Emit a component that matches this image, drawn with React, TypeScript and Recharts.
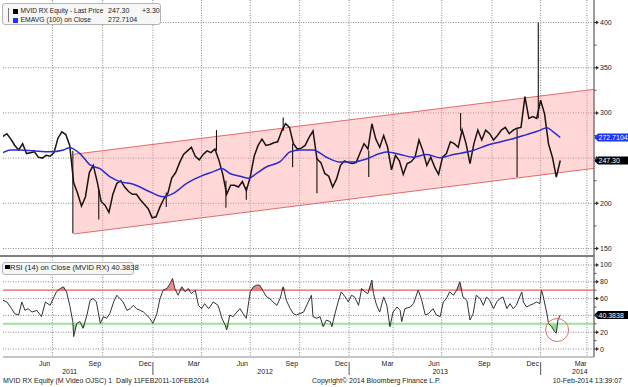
import React from 'react';
import { ComposedChart, Line, Area, XAxis, YAxis, CartesianGrid, ReferenceLine, ReferenceDot } from 'recharts';

// ---------- data (x = trading-day index from the start of the window) ----------
const WEEK = 5;
const weeklyClose = [
  274, 277, 271, 264, 259, 266, 255, 256, 257, 251,
  250, 253, 252, 256, 272, 279, 276, 264, 223, 211,
  197, 207, 234, 242, 224, 202, 198, 190, 210, 222,
  225, 218, 213, 210, 210, 204, 199, 194, 184, 185,
  196, 205, 211, 228, 234, 245, 254, 258, 262, 252,
  248, 254, 258, 256, 260, 248, 232, 210, 220, 220,
  218, 224, 214, 229, 252, 264, 271, 264, 265, 267,
  268, 280, 288, 284, 266, 260, 261, 264, 273, 280,
  249, 245, 233, 230, 218, 227, 242, 247, 245, 244,
  245, 256, 266, 260, 288, 271, 262, 275, 262, 237,
  253, 247, 232, 244, 246, 251, 270, 258, 242, 251,
  240, 232, 251, 255, 268, 266, 262, 281, 266, 244,
  266, 281, 270, 281, 277, 270, 275, 281, 284, 277,
  281, 283, 284, 318, 294, 296, 294, 314, 299, 266,
  251, 229, 247.3,
];
const spikeDays = [89, 122, 208, 272, 284, 310, 357, 369, 400, 466, 583, 655, 682];
const spikeFrom = [258, 215, 212, 258, 225, 218, 280, 266, 250, 258, 280, 282, 294];
const spikeTo = [167, 182, 196, 281, 195, 204, 295, 240, 211, 229, 300, 229, 400];

const emaDays = [
  0, 9, 22, 39, 60, 77, 85, 98, 111, 124,
  136, 149, 166, 187, 204, 217, 234, 251, 268, 279,
  289, 302, 313, 323, 336, 353, 366, 378, 395, 412,
  429, 446, 463, 480, 489, 506, 523, 540, 557, 574,
  591, 599, 616, 633, 650, 667, 684, 693, 701, 710,
];
const emaValues = [
  256, 259, 259, 258, 257, 259, 261.5, 255, 242.4, 238,
  229.5, 224, 221, 212.8, 207.3, 211, 222, 229.5, 235, 238.6,
  233, 230, 227.6, 233, 240.4, 246, 257, 259, 259, 251,
  245.6, 245.6, 249, 255, 256.7, 254, 251, 254, 250.4, 254,
  256.7, 258.5, 264, 267.8, 271.5, 276, 280.7, 283.7, 279, 272.7104,
];

const rsiDays = [
  0, 5, 11, 15, 20, 24, 28, 32, 37, 43,
  49, 54, 60, 64, 68, 73, 77, 81, 85, 89,
  90, 94, 98, 102, 107, 111, 115, 119, 124, 128,
  132, 136, 141, 145, 149, 153, 158, 162, 166, 170,
  175, 179, 183, 187, 191, 196, 200, 204, 209, 213,
  216, 219, 223, 228, 232, 236, 240, 245, 249, 253,
  257, 262, 268, 274, 279, 283, 285, 289, 293, 298,
  302, 306, 310, 315, 319, 323, 327, 332, 336, 340,
  344, 349, 353, 357, 361, 366, 370, 374, 383, 389,
  393, 395, 400, 404, 408, 412, 417, 419, 423, 427,
  431, 436, 440, 444, 448, 453, 457, 461, 465, 470,
  472, 476, 480, 485, 489, 493, 497, 502, 506, 508,
  512, 519, 523, 529, 533, 538, 542, 548, 552, 557,
  561, 565, 569, 574, 578, 582, 586, 591, 595, 599,
  603, 608, 612, 616, 620, 625, 629, 633, 637, 642,
  646, 650, 654, 661, 663, 667, 671, 676, 680, 684,
  686, 688, 693, 695, 699, 703, 705, 707, 710,
];
const rsiValues = [
  58, 56, 48, 42, 40.5, 56, 46, 48, 44, 46,
  38.5, 56, 52, 60, 68, 72, 74, 68, 52, 32.5,
  14.7, 30.5, 32.5, 24.6, 40.5, 58, 60, 56, 30.5, 38.5,
  36.5, 42, 56, 64, 60, 56, 46, 48, 52, 48,
  46, 44, 40.5, 36.5, 30.5, 42, 60, 70, 72, 78,
  84, 72, 64, 74, 68, 72, 66, 70, 52, 48,
  54, 48, 56, 52, 36.5, 28.6, 22.6, 40.5, 38.5, 44,
  48, 42, 36.5, 68, 74, 76, 76, 68, 62, 60,
  56, 52, 60, 74, 58, 48, 42, 40.5, 44, 56,
  64, 38.5, 36.5, 38.5, 26.6, 34.5, 32.5, 26.6, 42, 56,
  68, 62, 56, 64, 62, 52, 72, 68, 66, 82,
  66, 52, 44, 62, 52, 26.6, 44, 50, 46, 32.5,
  48, 50, 54, 70, 60, 40.5, 42, 48, 40.5, 38.5,
  56, 60, 68, 64, 70, 80, 62, 58, 34.5, 42,
  64, 60, 52, 62, 58, 48, 56, 60, 62, 48,
  54, 48, 52, 68, 56, 50, 52, 54, 56, 54,
  70, 64, 42, 30.5, 26.6, 20.6, 18.7, 34.5, 40.3838,
];

const channelDays = [90, 753];
const channelLow = [166, 238.7];
const channelHigh = [254.2, 326.1];

const gridDays = [63, 127, 191, 253, 315, 378, 441, 497, 559, 623, 685, 744];
const monthLabelDays = [53, 117, 181, 243, 305, 368, 431, 490, 549, 613, 675, 736];
const monthLabels = ['Jun', 'Sep', 'Dec', 'Mar', 'Jun', 'Sep', 'Dec', 'Mar', 'Jun', 'Sep', 'Dec', 'Mar'];
const yearLabelDays = [85, 334, 557, 735];
const yearLabels = ['2011', '2012', '2013', '2014'];
const yearStartDays = [191, 441, 685];

const priceTicks = [150, 175, 200, 225, 250, 275, 300, 325, 350, 375, 400];
const priceMajor = [150, 200, 250, 300, 350, 400];
const rsiTicks = [0, 10, 20, 30, 40, 50, 60, 70, 80, 90, 100];
const rsiMajor = [0, 20, 40, 60, 80, 100];

const priceChange = '+3.30';
const circleDay = 706;
const circleRsi = 22.6;

// ---------- derived tables ----------
const priceData = weeklyClose.map((v, i) => ({ day: i * WEEK, price: v }));
const emaData = emaDays.map((d, i) => ({ day: d, ema: emaValues[i] }));
const rsiData = rsiDays.map((d, i) => ({ day: d, rsi: rsiValues[i] }));
const channelData = channelDays.map((d, i) => ({ day: d, band: [channelLow[i], channelHigh[i]] }));
const lastPrice = weeklyClose[weeklyClose.length - 1];
const lastEma = emaValues[emaValues.length - 1];
const lastRsi = rsiValues[rsiValues.length - 1];
const yearTicks = [...yearLabelDays, ...yearStartDays].sort((a, b) => a - b);

const FONT = '"Liberation Sans", Arial, sans-serif';
const X_DOMAIN: [number, number] = [0, 753];

// axis tick: arrow mark + label; a label hidden under a last-value tag is not drawn
function AxisTick(props: any) {
  const { x, y, payload, major, tags, near } = props;
  const v = payload.value;
  const isMajor = major.includes(v);
  const covered = tags.some((t: number) => Math.abs(t - v) < near);
  return (
    <g>
      {isMajor ? (
        <polygon points={`${x},${y - 0.5} ${x + 2},${y - 0.5} ${x + 2},${y - 2} ${x + 5},${y} ${x + 2},${y + 2} ${x + 2},${y + 0.5} ${x},${y + 0.5}`} fill="#333" />
      ) : (
        <line x1={x} x2={x + 2.5} y1={y} y2={y} stroke="#555" strokeWidth={1} />
      )}
      {isMajor && !covered && (
        <text x={x + 6} y={y} dy={2.5} fontSize={7} fill="#222" fontFamily={FONT}>{v}</text>
      )}
    </g>
  );
}

function MonthTick(props: any) {
  const { x, y, payload } = props;
  const idx = monthLabelDays.indexOf(payload.value);
  return (
    <text x={x} y={y + 9} textAnchor="middle" fontSize={7} fill="#222" fontFamily={FONT}>{monthLabels[idx]}</text>
  );
}

function YearTick(props: any) {
  const { x, y, payload } = props;
  const v = payload.value;
  if (yearStartDays.includes(v)) {
    return <line x1={x} x2={x} y1={y - 3} y2={y + 10} stroke="#555" strokeWidth={1} />;
  }
  const idx = yearLabelDays.indexOf(v);
  return (
    <text x={x} y={y + 9} textAnchor="middle" fontSize={7} fill="#222" fontFamily={FONT}>{yearLabels[idx]}</text>
  );
}

function ValueTag(props: any) {
  const { viewBox, text, bg } = props;
  if (!viewBox) return null;
  const x = viewBox.x + viewBox.width;
  const y = viewBox.y;
  return (
    <g>
      <polygon points={`${x},${y} ${x + 4},${y - 4} ${x + 34},${y - 4} ${x + 34},${y + 4} ${x + 4},${y + 4}`} fill={bg} />
      <text x={x + 4.5} y={y + 2.6} fontSize={7} fill="#fff" fontFamily={FONT}>{text}</text>
    </g>
  );
}

const txt: React.CSSProperties = { position: 'absolute', fontFamily: FONT, fontSize: 7, lineHeight: '8px', color: '#222', whiteSpace: 'pre' };

export default function App() {
  return (
    <div style={{ position: 'absolute', left: 0, top: 0, width: 628, height: 387, background: '#fff', overflow: 'hidden' }}>
      <div style={{ position: 'absolute', left: 0, top: 0 }}>
        <ComposedChart width={628} height={255} margin={{ top: 0, right: 0, bottom: 0, left: 3 }}>
          <CartesianGrid stroke="#8a8a8a" strokeDasharray="1 1.5" horizontalValues={priceMajor} verticalValues={gridDays} />
          <XAxis dataKey="day" type="number" domain={X_DOMAIN} allowDataOverflow hide />
          <YAxis orientation="right" width={34} type="number" domain={[142.8, 424.9]} allowDataOverflow
            ticks={priceTicks} interval={0} tick={<AxisTick major={priceMajor} tags={[lastPrice, lastEma]} near={6} />}
            tickLine={false} tickSize={0} tickMargin={0} axisLine={{ stroke: '#7a7a7a', strokeWidth: 1.5 }} />
          <Area data={channelData} dataKey="band" type="linear" stroke="#e06a6a" strokeWidth={1} fill="#ff9c9c" fillOpacity={0.4}
            dot={false} activeDot={false} isAnimationActive={false} />
          <Line data={priceData} dataKey="price" type="linear" stroke="#1a1212" strokeWidth={1.5} dot={false} activeDot={false} isAnimationActive={false} />
          {spikeDays.map((d, k) => (
            <Line key={`s${k}`} data={[{ day: d, v: spikeFrom[k] }, { day: d, v: spikeTo[k] }]} dataKey="v" type="linear"
              stroke="#1a1212" strokeWidth={1.1} dot={false} activeDot={false} isAnimationActive={false} />
          ))}
          <Line data={emaData} dataKey="ema" type="monotone" stroke="#2b2bd0" strokeWidth={1.5} dot={false} activeDot={false} isAnimationActive={false} />
          <ReferenceLine y={lastEma} stroke="none" label={<ValueTag text={lastEma.toFixed(4)} bg="#1a33ff" />} />
          <ReferenceLine y={lastPrice} stroke="none" label={<ValueTag text={lastPrice.toFixed(2)} bg="#000" />} />
        </ComposedChart>
      </div>

      <div style={{ position: 'absolute', left: 0, top: 255, width: 595, height: 2, background: '#7f7f7f' }} />

      <div style={{ position: 'absolute', left: 0, top: 257 }}>
        <ComposedChart width={628} height={120} margin={{ top: 0, right: 0, bottom: 0, left: 3 }}>
          <CartesianGrid stroke="#8a8a8a" strokeDasharray="1 1.5" horizontalValues={rsiMajor} verticalValues={gridDays} />
          <XAxis dataKey="day" type="number" domain={X_DOMAIN} allowDataOverflow ticks={monthLabelDays} interval={0} height={8}
            tick={<MonthTick />} tickLine={false} tickSize={0} tickMargin={0} axisLine={{ stroke: '#8a8a8a' }} />
          <XAxis xAxisId="yr" dataKey="day" type="number" domain={X_DOMAIN} allowDataOverflow ticks={yearTicks} interval={0} height={12}
            tick={<YearTick />} tickLine={false} tickSize={0} tickMargin={0} axisLine={false} />
          <YAxis orientation="right" width={34} type="number" domain={[-9.52, 109.52]} allowDataOverflow
            ticks={rsiTicks} interval={0} tick={<AxisTick major={rsiMajor} tags={[lastRsi]} near={5} />}
            tickLine={false} tickSize={0} tickMargin={0} axisLine={{ stroke: '#7a7a7a', strokeWidth: 1.5 }} />
          <ReferenceLine y={70} stroke="#e06060" strokeWidth={1.2} />
          <ReferenceLine y={30} stroke="#9ae39a" strokeWidth={2} />
          <Area data={rsiData} dataKey={(d: any) => [70, Math.max(70, d.rsi)]} type="linear" stroke="none" fill="#f08c8c" fillOpacity={1}
            dot={false} activeDot={false} isAnimationActive={false} />
          <Area data={rsiData} dataKey={(d: any) => [Math.min(30, d.rsi), 30]} type="linear" stroke="none" fill="#8ee08e" fillOpacity={1}
            dot={false} activeDot={false} isAnimationActive={false} />
          <Line data={rsiData} dataKey="rsi" type="linear" stroke="#333" strokeWidth={1} dot={false} activeDot={false} isAnimationActive={false} />
          <ReferenceDot x={circleDay} y={circleRsi} r={11.5} fill="none" stroke="#e06a6a" strokeWidth={1} />
          <ReferenceLine y={lastRsi} stroke="none" label={<ValueTag text={lastRsi.toFixed(4)} bg="#000" />} />
        </ComposedChart>
      </div>

      {/* price legend */}
      <div style={{ position: 'absolute', left: 2, top: 3, width: 157, height: 20, background: '#f6f6f6', border: '1px solid #b4b4b4', borderRadius: 3 }} />
      <div style={{ position: 'absolute', left: 8, top: 8, width: 1, height: 14, background: '#777' }} />
      <div style={{ position: 'absolute', left: 13, top: 8.5, width: 5, height: 5, background: '#000' }} />
      <div style={{ position: 'absolute', left: 13, top: 17.5, width: 5, height: 5, background: '#1a33ff' }} />
      <div style={{ ...txt, left: 20.5, top: 7, fontSize: 6.6 }}>MVID RX Equity - Last Price</div>
      <div style={{ ...txt, left: 108, top: 7 }}>{lastPrice.toFixed(2)}</div>
      <div style={{ ...txt, left: 142, top: 7 }}>{priceChange}</div>
      <div style={{ ...txt, left: 20.5, top: 16, fontSize: 6.8 }}>EMAVG (100) on Close</div>
      <div style={{ ...txt, left: 108, top: 16 }}>{lastEma.toFixed(4)}</div>

      {/* RSI legend */}
      <div style={{ position: 'absolute', left: 2, top: 262, width: 130, height: 11, background: '#f6f6f6', border: '1px solid #b4b4b4', borderRadius: 3 }} />
      <div style={{ position: 'absolute', left: 5, top: 264.5, width: 4.5, height: 4.5, background: '#000' }} />
      <div style={{ ...txt, left: 10, top: 263.5, fontSize: 7.6 }}>RSI (14) on Close (MVID RX) {lastRsi.toFixed(4)}</div>

      {/* footer */}
      <div style={{ ...txt, left: 3, top: 377 }}>MVID RX Equity (M Video OJSC) 1  Daily 11FEB2011-10FEB2014</div>
      <div style={{ ...txt, left: 312, top: 377 }}>Copyright© 2014 Bloomberg Finance L.P.</div>
      <div style={{ ...txt, right: 6, top: 377 }}>10-Feb-2014 13:39:07</div>
    </div>
  );
}
